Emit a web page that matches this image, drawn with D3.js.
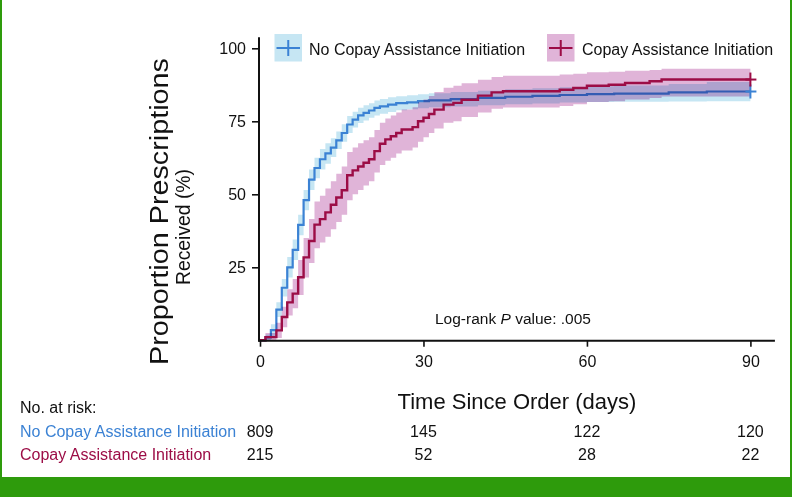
<!DOCTYPE html>
<html>
<head>
<meta charset="utf-8">
<script src="https://cdn.jsdelivr.net/npm/d3@7"></script>
<style>
html,body{margin:0;padding:0;background:#fff;}
svg{display:block;font-family:"Liberation Sans",Arial,Helvetica,sans-serif;}
</style>
</head>
<body>
<svg id="chart" width="792" height="497"></svg>
<script>
// ---------- DATA ----------
const seriesNames = ["No Copay Assistance Initiation", "Copay Assistance Initiation"];

const noCopayTime  = [0,1,2,3,4,5,6,7,8,9,10,11,12,13,14,15,16,17,18,19,20,21,22,23.5,25,27,29,31,35,40,45,50,55,60,65,75,82,90];
const noCopayValue = [0,1,3.5,10.5,18,25,31,39.5,48,55,59,62,64,66,68.5,71,73.9,75.6,77,77.9,78.7,79.6,80.1,80.7,81.2,81.5,81.9,82.2,82.6,83,83.4,83.7,84,84.3,84.5,84.9,85.2,85.2];
const noCopayLower = [0,0,1.5,8,15,21.5,27.5,36,44.5,51.5,55.5,58.5,60.5,62.8,65.5,68,71,72.9,74.4,75.3,76.2,77,77.6,78.2,78.8,79.1,79.5,79.8,80.1,80.5,80.8,81.1,81.4,81.6,81.7,81.8,81.9,81.9];
const noCopayUpper = [0,2,5.5,13,21,28.5,34.5,43,51.5,58.5,62.5,65.5,67.5,69.2,71.5,74,76.8,78.3,79.6,80.5,81.2,82.1,82.6,83.2,83.6,83.9,84.3,84.6,85,85.5,86,86.3,86.7,87,87.3,87.8,88.5,88.7];

const copayTime  = [0,1,3,4,5,6,7,8,9,10,11,12,13,14,15,16,17,18,19,20,21,22,23,24,25,26,28,29,30,31,32,33.7,35.5,37,40,42.5,44.6,55,57.5,60,64,67,71.5,73.7,90];
const copayValue = [0,1.1,3.4,8,13,16,21.6,28.4,34,39.6,41.5,43.8,46.4,48.9,51.4,56.5,58.2,59.5,60.8,62,64.8,67.3,68.8,69.9,71,72.2,73,75,76.2,77.5,79,80.7,81.3,82.4,83.8,84.9,85.3,85.8,86.4,87.2,87.5,88.1,88.7,89.3,89.3];
const copayLower = [0,0,0.8,4.5,8.5,11,15.5,21.5,26.5,31.5,33.5,35.5,38,40.5,43,48,50,51.5,53,54.5,57.5,60,61.5,62.5,64,65,66,68,69.5,71,72.5,74.5,75,76.5,78,79.3,79.7,80.2,80.8,81.6,81.9,82.5,83,83.5,83.5];
const copayUpper = [0,2.5,6,11.5,17.5,21,27.5,35,41.5,47.5,49.5,52,54.5,57,59.5,64.5,66,67.5,68.5,69.5,72,74.5,76,77,78,79,79.8,81.5,82.5,83.7,85,86.5,87.2,88,89.2,90.2,90.6,91,91.3,91.8,92,92.3,92.6,93,93];

const xTicks = [0,30,60,90];
const yTicks = [25,50,75,100];
const riskTimes = [0,30,60,90];
const riskNoCopay = [809,145,122,120];
const riskCopay = [215,52,28,22];
const pValueLabel = ".005";

// ---------- STYLE ----------
const blueLine = "#3b82d4", blueBand = "#c6e6f3";
const redLine = "#9c0d46", redBand = "#e0b4d8";
const green = "#2e9b0c";

const svg = d3.select("#chart");
const x = d3.scaleLinear().domain([0,90]).range([260,750.4]);
const y = d3.scaleLinear().domain([0,100]).range([340.3,48.3]);
const xRisk = d3.scaleLinear().domain([0,90]).range([260,750.4]);

function pts(t, v){ return t.map((d,i)=>({t:d, v:v[i]})); }
function band(t, lo, hi){ return t.map((d,i)=>({t:d, lo:lo[i], hi:hi[i]})); }

const area = d3.area().curve(d3.curveStepAfter)
  .x(d=>x(d.t)).y0(d=>y(d.lo)).y1(d=>y(d.hi));
const line = d3.line().curve(d3.curveStepAfter)
  .x(d=>x(d.t)).y(d=>y(d.v));

// bands & lines
svg.append("path").datum(band(noCopayTime,noCopayLower,noCopayUpper))
  .attr("d",area).attr("fill",blueBand);
svg.append("path").datum(pts(noCopayTime,noCopayValue))
  .attr("d",line).attr("fill","none").attr("stroke",blueLine).attr("stroke-width",2.2);
svg.append("path").datum(band(copayTime,copayLower,copayUpper))
  .attr("d",area).attr("fill",redBand).style("mix-blend-mode","multiply");
svg.append("path").datum(pts(copayTime,copayValue))
  .attr("d",line).attr("fill","none").attr("stroke",redLine).attr("stroke-width",2.4);

// censor crosses at end
function cross(cx, cy, color){
  svg.append("line").attr("x1",cx-5).attr("x2",cx+6).attr("y1",cy).attr("y2",cy)
    .attr("stroke",color).attr("stroke-width",2);
  svg.append("line").attr("x1",cx).attr("x2",cx).attr("y1",cy-7).attr("y2",cy+7)
    .attr("stroke",color).attr("stroke-width",2);
}
cross(x(noCopayTime[noCopayTime.length-1]), y(noCopayValue[noCopayValue.length-1]), blueLine);
cross(x(copayTime[copayTime.length-1]), y(copayValue[copayValue.length-1]), redLine);

// axes
const xAxis = svg.append("g").attr("transform","translate(0,340.7)")
  .call(d3.axisBottom(x).tickValues(xTicks).tickSize(6).tickPadding(9));
xAxis.select(".domain").remove();
xAxis.selectAll(".tick line").attr("stroke","#111").attr("stroke-width",1.6);
xAxis.selectAll(".tick text").attr("font-size",16).attr("fill","#111")
  .attr("font-family","Liberation Sans, Arial, sans-serif");
svg.append("line").attr("x1",258.5).attr("x2",x(94.5)).attr("y1",340.7).attr("y2",340.7)
  .attr("stroke","#111").attr("stroke-width",2);

const yAxis = svg.append("g").attr("transform","translate(259,0)")
  .call(d3.axisLeft(y).tickValues(yTicks).tickSize(7).tickPadding(6));
yAxis.select(".domain").remove();
yAxis.selectAll(".tick line").attr("stroke","#111").attr("stroke-width",1.6);
yAxis.selectAll(".tick text").attr("font-size",16).attr("fill","#111")
  .attr("font-family","Liberation Sans, Arial, sans-serif");
svg.append("line").attr("x1",259).attr("x2",259).attr("y1",y(103.8)).attr("y2",341.7)
  .attr("stroke","#111").attr("stroke-width",2);

// axis titles
svg.append("text").attr("transform","translate(167.5,211.5) rotate(-90)")
  .attr("text-anchor","middle").attr("font-size",25).attr("fill","#111")
  .attr("textLength",307).attr("lengthAdjust","spacingAndGlyphs")
  .text("Proportion Prescriptions");
svg.append("text").attr("transform","translate(190,227) rotate(-90)")
  .attr("text-anchor","middle").attr("font-size",21).attr("fill","#111")
  .attr("textLength",116).attr("lengthAdjust","spacingAndGlyphs")
  .text("Received (%)");
svg.append("text").attr("x",517).attr("y",409).attr("text-anchor","middle")
  .attr("font-size",22).attr("fill","#111").text("Time Since Order (days)");

// p-value
const pt = svg.append("text").attr("x",513).attr("y",323.5).attr("text-anchor","middle")
  .attr("font-size",15.5).attr("fill","#111");
pt.append("tspan").text("Log-rank ");
pt.append("tspan").attr("font-style","italic").text("P");
pt.append("tspan").text(" value: " + pValueLabel);

// legend
const legend = [
  {name:seriesNames[0], band:blueBand, line:blueLine, x:274.5, tx:309},
  {name:seriesNames[1], band:redBand, line:redLine, x:547, tx:582}
];
legend.forEach(l=>{
  svg.append("rect").attr("x",l.x).attr("y",34).attr("width",27.5).attr("height",27.5).attr("fill",l.band);
  svg.append("line").attr("x1",l.x+2).attr("x2",l.x+25.5).attr("y1",48).attr("y2",48)
    .attr("stroke",l.line).attr("stroke-width",2);
  svg.append("line").attr("x1",l.x+13.75).attr("x2",l.x+13.75).attr("y1",40).attr("y2",56)
    .attr("stroke",l.line).attr("stroke-width",2);
  svg.append("text").attr("x",l.tx).attr("y",55).attr("font-size",16).attr("fill","#111").text(l.name);
});

// risk table
svg.append("text").attr("x",20).attr("y",413).attr("font-size",16).attr("fill","#111").text("No. at risk:");
const rows = [
  {name:seriesNames[0], color:blueLine, vals:riskNoCopay, y:436.7},
  {name:seriesNames[1], color:redLine, vals:riskCopay, y:460}
];
rows.forEach(r=>{
  svg.append("text").attr("x",20).attr("y",r.y).attr("font-size",16).attr("fill",r.color).text(r.name);
  svg.selectAll(null).data(riskTimes).enter().append("text")
    .attr("x",(d)=>xRisk(d)).attr("y",r.y).attr("text-anchor","middle")
    .attr("font-size",16).attr("fill","#111").text((d,i)=>r.vals[i]);
});

// frame
svg.append("rect").attr("x",0).attr("y",477).attr("width",792).attr("height",20).attr("fill",green);
svg.append("rect").attr("x",0).attr("y",0).attr("width",2).attr("height",497).attr("fill",green);
svg.append("rect").attr("x",790).attr("y",0).attr("width",2).attr("height",497).attr("fill",green);
</script>
</body>
</html>
